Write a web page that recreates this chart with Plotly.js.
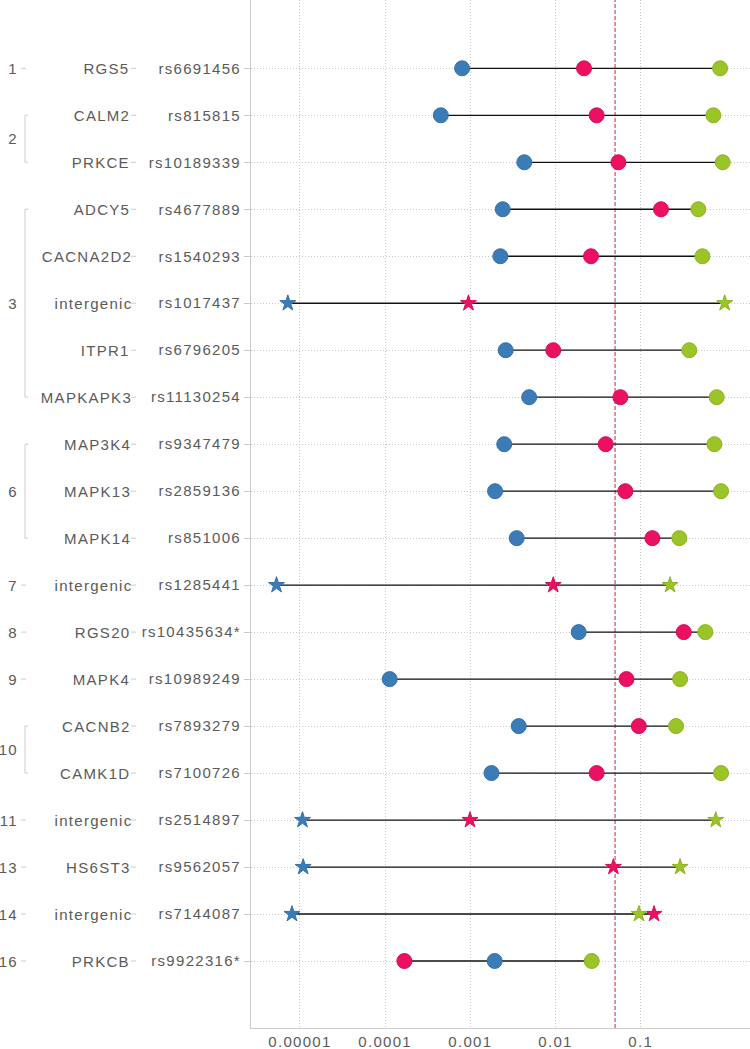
<!DOCTYPE html>
<html>
<head>
<meta charset="utf-8">
<script src="https://cdn.plot.ly/plotly-3.0.1.min.js"></script>
<style>
  body { margin: 0; background: #fff; }
  #chart { width: 750px; height: 1049px; }
  #chart svg text { letter-spacing: 1.3px; }
</style>
</head>
<body>
<div id="chart"></div>
<script>
// rows, top to bottom
var snps = ['rs6691456','rs815815','rs10189339','rs4677889','rs1540293','rs1017437','rs6796205','rs11130254',
  'rs9347479','rs2859136','rs851006','rs1285441','rs10435634*','rs10989249','rs7893279','rs7100726',
  'rs2514897','rs9562057','rs7144087','rs9922316*'];
var genes = ['RGS5','CALM2','PRKCE','ADCY5','CACNA2D2','intergenic','ITPR1','MAPKAPK3',
  'MAP3K4','MAPK13','MAPK14','intergenic','RGS20','MAPK4','CACNB2','CAMK1D',
  'intergenic','HS6ST3','intergenic','PRKCB'];
var chroms = ['1','2','2','3','3','3','3','3','6','6','6','7','8','9','10','10','11','13','14','16'];
var starSnps = ['rs1017437','rs1285441','rs2514897','rs9562057','rs7144087'];

var pBlue  = [8.0e-4, 4.5e-4, 4.3e-3, 2.4e-3, 2.25e-3, 7.2e-6, 2.6e-3, 4.9e-3, 2.5e-3, 1.95e-3,
  3.5e-3, 5.3e-6, 0.0187, 1.13e-4, 3.7e-3, 1.77e-3, 1.07e-5, 1.09e-5, 8.05e-6, 1.93e-3];
var pPink  = [0.0216, 0.0304, 0.0547, 0.173, 0.0261, 9.5e-4, 9.4e-3, 0.0577, 0.0388, 0.066,
  0.137, 9.4e-3, 0.32, 0.068, 0.095, 0.0304, 9.9e-4, 0.0478, 0.1435, 1.68e-4];
var pGreen = [0.855, 0.713, 0.918, 0.475, 0.53, 0.968, 0.372, 0.78, 0.733, 0.877,
  0.284, 0.221, 0.574, 0.29, 0.26, 0.877, 0.76, 0.29, 0.0955, 0.0266];

var xTicks = [0.00001, 0.0001, 0.001, 0.01, 0.1];
var xTickText = ['0.00001', '0.0001', '0.001', '0.01', '0.1'];
var cutoff = 0.05;

var rows = snps.map(function(s, i) { return i; });
var textColor = '#5a5a5a';
var fnt = 'Arial, "Liberation Sans", sans-serif';

// pixel -> paper helper (plot area starts at 251px, 499px wide)
var L = 251, W = 499;
function px(p) { return (p - L) / W; }

// connecting lines
var lx = [], ly = [];
rows.forEach(function(i) {
  var v = [pBlue[i], pPink[i], pGreen[i]];
  lx.push(Math.min.apply(null, v), Math.max.apply(null, v), null);
  ly.push(i, i, null);
});

function series(name, vals, color, edge) {
  return {
    type: 'scatter', mode: 'markers', name: name,
    x: vals, y: rows,
    marker: {
      color: color, opacity: 1,
      symbol: snps.map(function(s) { return starSnps.indexOf(s) >= 0 ? 'star' : 'circle'; }),
      size: snps.map(function(s) { return starSnps.indexOf(s) >= 0 ? 12 : 15; }),
      line: {color: edge, width: 1}
    },
    hoverinfo: 'x+y'
  };
}

var data = [
  {type: 'scatter', mode: 'lines', x: lx, y: ly, line: {color: '#111', width: 1.3}, hoverinfo: 'skip', connectgaps: false},
  series('blue', pBlue, '#3c7cb6', '#3570a8'),
  series('pink', pPink, '#ec1063', '#d80c58'),
  series('green', pGreen, '#9ac427', '#8bb41f')
];

var shapes = [{
  type: 'line', xref: 'x', yref: 'paper', x0: cutoff, x1: cutoff, y0: 0, y1: 1,
  line: {color: '#d8203c', width: 1, dash: '4px,2px'}, layer: 'below'
}];
var annotations = [];

// gene labels with small dashes
rows.forEach(function(i) {
  annotations.push({xref: 'paper', yref: 'y', x: px(129), y: i, text: genes[i], showarrow: false,
    xanchor: 'right', yanchor: 'middle', font: {family: fnt, size: 15, color: textColor}});
  shapes.push({type: 'line', xref: 'paper', yref: 'y', x0: px(131), x1: px(136), y0: i, y1: i,
    line: {color: '#ccc', width: 1}});
});

// chromosome groups
var start = 0;
for (var i = 1; i <= chroms.length; i++) {
  if (i == chroms.length || chroms[i] != chroms[start]) {
    var end = i - 1;
    var mid = (start + end) / 2;
    annotations.push({xref: 'paper', yref: 'y', x: px(19), y: mid, text: chroms[start], showarrow: false,
      xanchor: 'right', yanchor: 'middle', font: {family: fnt, size: 15, color: textColor}});
    if (end == start) {
      shapes.push({type: 'line', xref: 'paper', yref: 'y', x0: px(21), x1: px(26), y0: mid, y1: mid,
        line: {color: '#ccc', width: 1}});
    } else {
      shapes.push({type: 'line', xref: 'paper', yref: 'y', x0: px(25), x1: px(25), y0: start, y1: end,
        line: {color: '#ccc', width: 1}});
      shapes.push({type: 'line', xref: 'paper', yref: 'y', x0: px(25), x1: px(28), y0: start, y1: start,
        line: {color: '#ccc', width: 1}});
      shapes.push({type: 'line', xref: 'paper', yref: 'y', x0: px(25), x1: px(28), y0: end, y1: end,
        line: {color: '#ccc', width: 1}});
    }
    start = i;
  }
}

var layout = {
  width: 750, height: 1049,
  margin: {l: L, r: 0, t: 0, b: 21},
  paper_bgcolor: '#fff', plot_bgcolor: '#fff',
  showlegend: false,
  font: {family: fnt, size: 15, color: textColor},
  xaxis: {
    type: 'log', range: [-5.575, 0.283],
    tickvals: xTicks, ticktext: xTickText,
    showgrid: true, gridcolor: '#c8c8c8', griddash: '1px,2px', gridwidth: 1,
    showline: true, linecolor: '#ccc', linewidth: 1,
    ticks: '', zeroline: false,
    tickfont: {family: fnt, size: 15, color: textColor}
  },
  yaxis: {
    range: [20.426, -1.454],
    tickvals: rows, ticktext: snps,
    showgrid: true, gridcolor: '#c8c8c8', griddash: '1px,2px', gridwidth: 1,
    showline: true, linecolor: '#ccc', linewidth: 1,
    ticks: 'outside', ticklen: 6, tickcolor: '#ccc',
    zeroline: false,
    tickfont: {family: fnt, size: 15, color: textColor}
  },
  shapes: shapes,
  annotations: annotations
};

Plotly.newPlot('chart', data, layout, {displayModeBar: false, staticPlot: true});
</script>
</body>
</html>
